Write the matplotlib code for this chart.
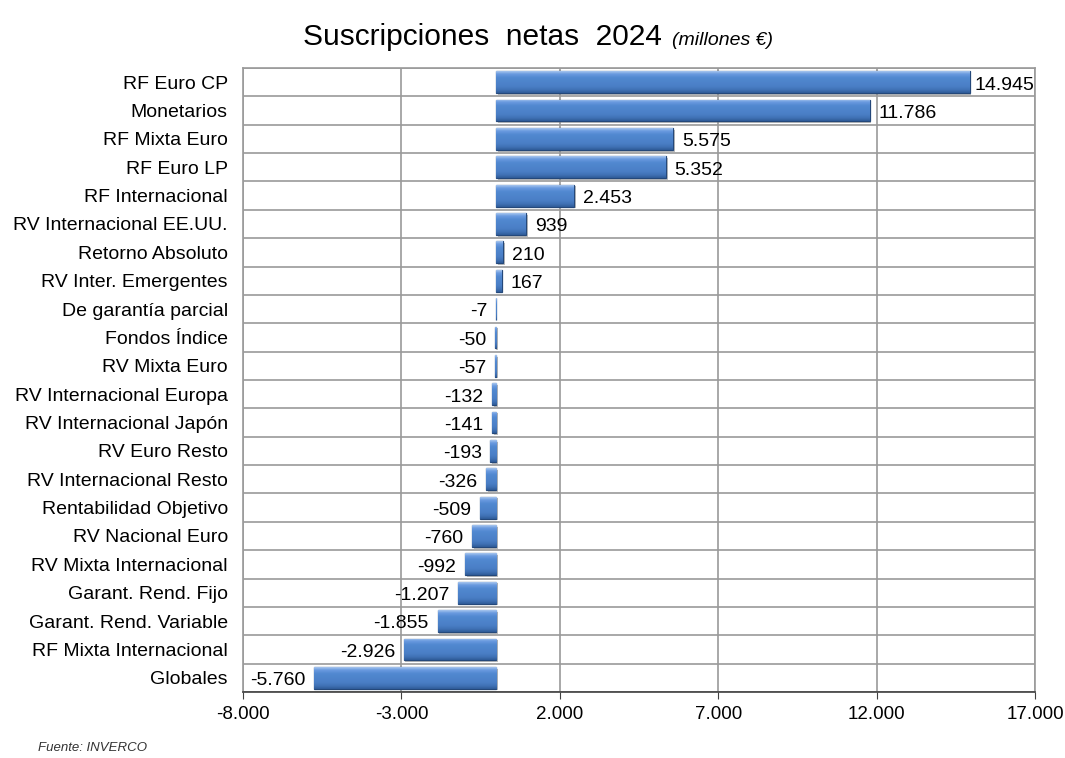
import matplotlib
matplotlib.use("Agg")
import matplotlib.pyplot as plt
import numpy as np
from matplotlib.ticker import FixedLocator, FuncFormatter
from matplotlib.colors import LinearSegmentedColormap

plt.rcParams['font.family'] = ['Liberation Sans', 'DejaVu Sans']

categories = ["RF Euro CP", "Monetarios", "RF Mixta Euro", "RF Euro LP", "RF Internacional",
              "RV Internacional EE.UU.", "Retorno Absoluto", "RV Inter. Emergentes",
              "De garantía parcial", "Fondos Índice", "RV Mixta Euro", "RV Internacional Europa",
              "RV Internacional Japón", "RV Euro Resto", "RV Internacional Resto",
              "Rentabilidad Objetivo", "RV Nacional Euro", "RV Mixta Internacional",
              "Garant. Rend. Fijo", "Garant. Rend. Variable", "RF Mixta Internacional", "Globales"]
values = [14945, 11786, 5575, 5352, 2453, 939, 210, 167, -7, -50, -57, -132, -141, -193,
          -326, -509, -760, -992, -1207, -1855, -2926, -5760]
xticks = [-8000, -3000, 2000, 7000, 12000, 17000]

def fmt(v):
    s = f"{abs(int(v)):,}".replace(",", ".")
    return ("-" if v < 0 else "") + s

fig = plt.figure(figsize=(10.65, 7.58), dpi=100)
ax = fig.add_axes([0.2282, 0.0871, 0.7436, 0.8232])

n = len(categories)
y = np.arange(n)
bh = 0.77
ax.set_xlim(xticks[0], xticks[-1])
ax.set_ylim(n - 0.5, -0.5)

# grid
for xt in xticks:
    ax.axvline(xt, color='#9a9a9a', lw=1.2, zorder=0)
for b in np.arange(n + 1) - 0.5:
    ax.axhline(b, color='#9a9a9a', lw=1.2, zorder=0)

cmap = LinearSegmentedColormap.from_list(
    'bar', [(0.0, '#a8c6ee'), (0.12, '#6b9be0'), (0.3, '#5188d0'), (0.7, '#4a7fc6'),
            (0.88, '#3f70b3'), (1.0, '#2e5a96')])
grad = np.linspace(0, 1, 64).reshape(-1, 1)

xr = xticks[-1] - xticks[0]
bars = ax.barh(y, values, height=bh, color='#4a7ebb', edgecolor='#24487a', lw=0.9, zorder=3)
for rect in bars:
    x0, y0 = rect.get_x(), rect.get_y()
    w, h = rect.get_width(), rect.get_height()
    sh = plt.Rectangle((x0 + xr * 0.002, y0 + 0.06), w, h, color='#7f7f7f', alpha=0.5, zorder=2, lw=0)
    ax.add_patch(sh)
    xa, xb = min(x0, x0 + w), max(x0, x0 + w)
    im = ax.imshow(grad, cmap=cmap, aspect='auto', extent=(xa, xb, y0 + h, y0), zorder=4,
                   interpolation='bicubic')
    im.set_clip_path(rect)

ax.set_yticks(y)
ax.set_yticklabels(categories, fontsize=14)
ax.xaxis.set_major_locator(FixedLocator(xticks))
ax.xaxis.set_major_formatter(FuncFormatter(lambda v, p: fmt(v)))
ax.tick_params(axis='x', labelsize=13.5, length=5, color='#404040', pad=5)
ax.tick_params(axis='y', length=0, pad=11)
for s in ['top', 'right', 'left']:
    ax.spines[s].set_color('#9a9a9a')
    ax.spines[s].set_linewidth(1.2)
ax.spines['bottom'].set_color('#404040')
ax.spines['bottom'].set_linewidth(1.2)

off = xr * 0.011
texts = []
for yi, v in zip(y, values):
    if v >= 0:
        t = ax.text(v + off, yi + 0.1, fmt(v), ha='left', va='center', fontsize=14, zorder=5)
    else:
        t = ax.text(v - off, yi + 0.1, fmt(v), ha='right', va='center', fontsize=14, zorder=5)
    texts.append((t, v))

# keep labels inside the plot area (like Excel does)
fig.canvas.draw()
r = fig.canvas.get_renderer()
axbb = ax.get_window_extent(r)
for t, v in texts:
    bb = t.get_window_extent(r)
    if bb.x1 > axbb.x1 - 1:
        shift_px = bb.x1 - (axbb.x1 - 1)
        dx = shift_px * xr / axbb.width
        t.set_x(t.get_position()[0] - dx)

fig.text(0.6216, 0.951, "Suscripciones  netas  2024", ha='right', va='center', fontsize=21.5)
fig.text(0.631, 0.947, "(millones €)", ha='left', va='center', fontsize=14, style='italic')
fig.text(0.036, 0.013, "Fuente: INVERCO", ha='left', va='center', fontsize=9.5, style='italic', color='#333333')

fig.savefig("out.png", dpi=100)
